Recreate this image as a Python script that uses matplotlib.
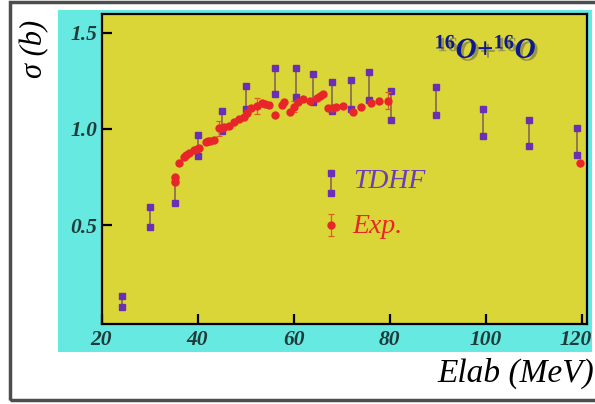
import matplotlib
matplotlib.use('Agg')
import matplotlib.pyplot as plt
import matplotlib.patheffects as pe
import matplotlib.transforms as mtransforms
from matplotlib.patches import Rectangle

# TDHF: energy and the two ends of each calculated range
tdhf_e = [24.3, 30.2, 35.3, 40.1, 45.0, 50.1, 56.2, 60.6, 64.0, 68.1, 72.0, 75.8,
          80.3, 89.7, 99.4, 109.1, 119.0]
tdhf_hi = [0.129, 0.592, 0.740, 0.968, 1.094, 1.224, 1.314, 1.314, 1.285, 1.245,
           1.254, 1.297, 1.198, 1.219, 1.101, 1.046, 1.003]
tdhf_lo = [0.075, 0.488, 0.613, 0.859, 0.989, 1.103, 1.179, 1.167, 1.141, 1.092,
           1.101, 1.150, 1.046, 1.072, 0.962, 0.911, 0.864]

# experimental points
exp_e = [35.3, 35.3, 36.2, 37.2, 37.7, 38.2, 39.3, 39.8, 40.3, 41.7, 42.2, 42.7, 43.4,
         44.4, 45.0, 45.5, 46.5, 47.5, 48.6, 49.6, 50.3, 51.2, 52.4, 53.4, 54.1,
         54.8, 56.2, 57.5, 58.1, 59.3, 60.0, 61.0, 62.0, 63.4, 64.8, 65.5, 66.2,
         67.2, 68.0, 68.9, 70.3, 72.4, 74.1, 76.2, 77.9, 79.6, 119.7]
exp_s = [0.751, 0.725, 0.821, 0.855, 0.862, 0.873, 0.890, 0.895, 0.899, 0.933, 0.936,
         0.938, 0.942, 1.003, 1.007, 1.011, 1.015, 1.037, 1.049, 1.063, 1.080, 1.108,
         1.118, 1.133, 1.128, 1.124, 1.070, 1.124, 1.141, 1.089, 1.115, 1.141, 1.153,
         1.146, 1.158, 1.170, 1.181, 1.106, 1.110, 1.115, 1.118, 1.089, 1.115, 1.133,
         1.146, 1.146, 0.821]
exp_err = [0, 0, 0, 0, 0, 0, 0, 0, 0, 0, 0, 0, 0,
           0.04, 0, 0, 0, 0, 0, 0, 0, 0, 0.04, 0, 0,
           0, 0, 0, 0, 0, 0.03, 0, 0, 0, 0, 0, 0,
           0, 0, 0, 0, 0, 0, 0, 0, 0.045, 0]

x_ticks = [20, 40, 60, 80, 100, 120]
y_ticks = [0.5, 1.0, 1.5]
y_labels = ['0.5', '1.0', '1.5']

yellow = '#dbd637'
cyan = '#66e9e0'
purple = '#6a2fb5'
red = '#e8262a'
tick_col = '#1f3c3c'

plt.rcParams['mathtext.fontset'] = 'custom'
plt.rcParams['mathtext.rm'] = 'Liberation Serif:bold'
plt.rcParams['mathtext.it'] = 'Liberation Serif:italic:bold'

W, H = 595, 404
fig = plt.figure(figsize=(W / 100, H / 100), dpi=100)

# cyan panel and outer frame
fig.add_artist(Rectangle((58 / W, (H - 352) / H), (592 - 58) / W, (352 - 10) / H,
                         transform=fig.transFigure, facecolor=cyan, edgecolor='none',
                         zorder=0))
fig.add_artist(Rectangle((10 / W, (H - 400) / H), 600 / W, 398 / H,
                         transform=fig.transFigure, facecolor='none',
                         edgecolor='#4d4d4d', linewidth=2.5, zorder=5))

ax = fig.add_axes([101.5 / W, (H - 324.3) / H, (587.3 - 101.5) / W, (324.3 - 14) / H])
ax.set_facecolor(yellow)
ax.set_xlim(20.6, 121.2)
ax.set_ylim(-0.016, 1.597)

ax.vlines(tdhf_e, tdhf_lo, tdhf_hi, color='#7d5e55', linewidth=1.1, zorder=2)
ax.plot(tdhf_e, tdhf_hi, 's', color=purple, markersize=5, zorder=3)
ax.plot(tdhf_e, tdhf_lo, 's', color=purple, markersize=5, zorder=3)

ax.errorbar(exp_e, exp_s, yerr=exp_err, fmt='o', color=red, markersize=5,
            ecolor='#d9601f', elinewidth=0.9, capsize=2, capthick=0.9, zorder=4)

tick_font = dict(fontfamily='Liberation Serif', fontstyle='italic',
                 fontweight='bold', fontsize=15.5, color=tick_col)
ax.set_xticks(x_ticks, [str(t) for t in x_ticks], **tick_font)
ax.set_yticks(y_ticks, y_labels, **tick_font)
ax.tick_params(direction='in', length=7, width=1.6, color='black',
               top=False, right=False)
ax.tick_params(axis='x', pad=4)
ax.tick_params(axis='y', pad=3)
for sp in ax.spines.values():
    sp.set_linewidth(1.6)
# the last x label sits a little left of its tick, as in the original
last = ax.get_xticklabels()[-1]
last.set_transform(last.get_transform() +
                   mtransforms.ScaledTranslation(-6 / 100, 0, fig.dpi_scale_trans))

# legend drawn by hand in axes coordinates
ax.plot([0.4724, 0.4724], [0.4241, 0.4886], color='#7d5e55', linewidth=1.1,
        transform=ax.transAxes)
ax.plot([0.4724, 0.4724], [0.4241, 0.4886], 's', color=purple, markersize=5,
        transform=ax.transAxes)
ax.text(0.5177, 0.4586, 'TDHF', transform=ax.transAxes, color='#6b3dbb',
        fontsize=20, fontfamily='Liberation Serif', fontstyle='italic',
        va='center', ha='left')
ax.errorbar([0.4724], [0.32], yerr=[0.036], fmt='o', color=red, markersize=5,
            ecolor='#d9601f', elinewidth=0.9, capsize=2, capthick=0.9,
            transform=ax.transAxes)
ax.text(0.5156, 0.315, 'Exp.', transform=ax.transAxes, color=red,
        fontsize=20, fontfamily='Liberation Serif', fontstyle='italic',
        va='center', ha='left')

ax.text(0.685, 0.885, r'$^{16}$O+$^{16}$O', transform=ax.transAxes, color='#0b1a8f',
        fontsize=21, fontfamily='Liberation Serif', fontstyle='italic',
        fontweight='bold', ha='left', va='center',
        path_effects=[pe.SimplePatchShadow(offset=(2, -2), shadow_rgbFace='#555555',
                                           alpha=0.5), pe.Normal()])

fig.text(35 / W, (H - 49) / H, 'σ (b)', rotation=90, ha='center', va='center',
         fontsize=22, fontfamily='Liberation Serif', fontstyle='italic')
fig.text(594 / W, (H - 373) / H, 'Elab (MeV)', ha='right', va='center',
         fontsize=24, fontfamily='Liberation Serif', fontstyle='italic')

fig.savefig('out.png', dpi=100)
